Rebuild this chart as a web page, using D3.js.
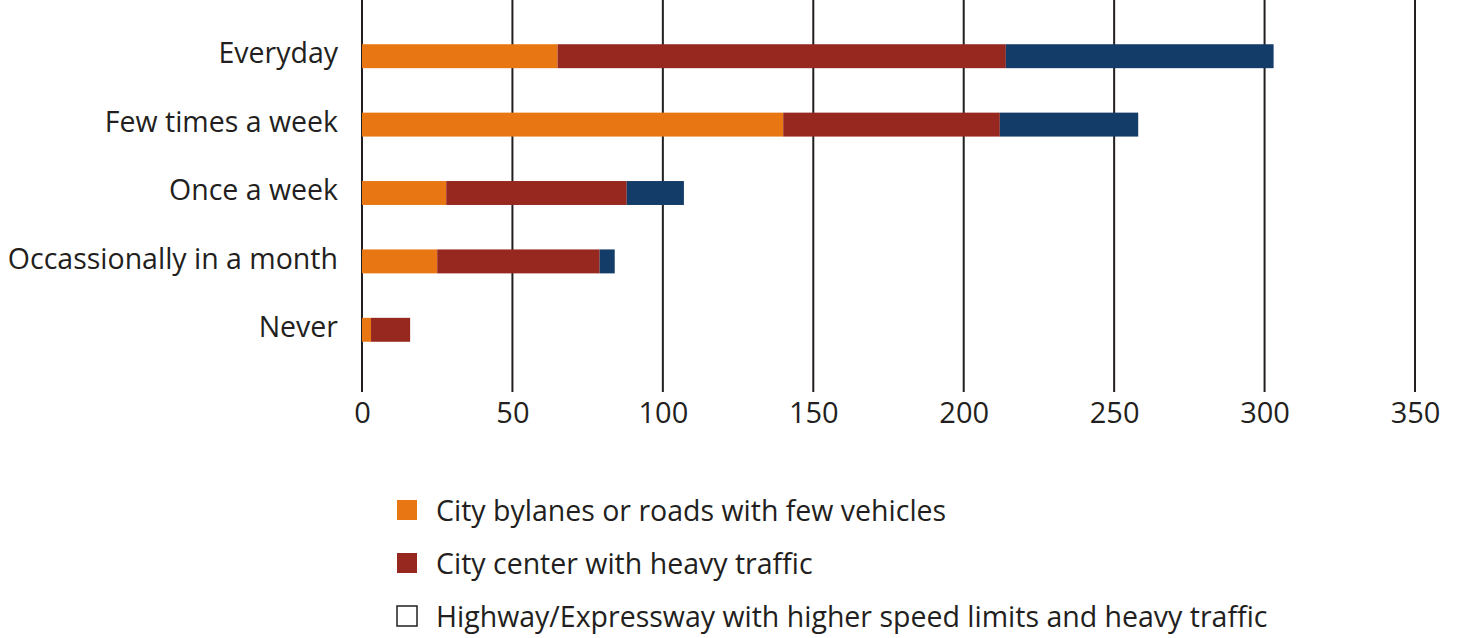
<!DOCTYPE html>
<html>
<head>
<meta charset="utf-8">
<script src="https://cdn.jsdelivr.net/npm/d3@7"></script>
<style>
  body { margin: 0; background: #fff; }
  svg { display: block; font-family: "Open Sans", sans-serif; }
</style>
</head>
<body>
<svg width="1458" height="638"></svg>
<script>
const categories = ['Everyday', 'Few times a week', 'Once a week', 'Occassionally in a month', 'Never'];
const seriesNames = [
  'City bylanes or roads with few vehicles',
  'City center with heavy traffic',
  'Highway/Expressway with higher speed limits and heavy traffic'
];
const bylanes = [65, 140, 28, 25, 3];
const cityCenter = [149, 72, 60, 54, 13];
const highway = [89, 46, 19, 5, 0];
const tickValues = [0, 50, 100, 150, 200, 250, 300, 350];
const colors = ['#e87713', '#962820', '#143c69'];

const svg = d3.select('svg');
const left = 362;
const right = 1415;

const rows = categories.map((c, i) => ({
  category: c,
  [seriesNames[0]]: bylanes[i],
  [seriesNames[1]]: cityCenter[i],
  [seriesNames[2]]: highway[i]
}));

const stack = d3.stack().keys(seriesNames);
const series = stack(rows);

const xScale = d3.scaleLinear().domain([0, 350]).range([left, right]);
const yScale = d3.scaleBand().domain(categories).range([22, 364]).paddingInner(0.65).paddingOuter(0.325);

// grid lines
svg.append('g')
  .selectAll('line')
  .data(tickValues)
  .enter()
  .append('line')
  .attr('x1', d => xScale(d))
  .attr('x2', d => xScale(d))
  .attr('y1', 0)
  .attr('y2', 392)
  .attr('stroke', '#231f20')
  .attr('stroke-width', 2);

const xAxis = d3.axisBottom(xScale).tickValues(tickValues).tickSize(0).tickPadding(0);
svg.append('g')
  .attr('transform', 'translate(0, 402)')
  .call(xAxis)
  .call(g => g.select('.domain').remove())
  .selectAll('text')
  .attr('dy', '0.71em')
  .style('font-size', '29px')
  .style('font-family', '"Open Sans", sans-serif')
  .attr('fill', '#231f20');

svg.append('g')
  .selectAll('g')
  .data(series)
  .enter()
  .append('g')
  .attr('fill', (d, i) => colors[i])
  .selectAll('rect')
  .data(d => d)
  .enter()
  .append('rect')
  .attr('x', d => xScale(d[0]))
  .attr('y', d => yScale(d.data.category))
  .attr('width', d => xScale(d[1]) - xScale(d[0]))
  .attr('height', yScale.bandwidth());

const yAxis = d3.axisLeft(yScale).tickSize(0).tickPadding(0);
svg.append('g')
  .attr('transform', 'translate(338, -2)')
  .call(yAxis)
  .call(g => g.select('.domain').remove())
  .selectAll('text')
  .style('font-size', '28.5px')
  .style('font-family', '"Open Sans", sans-serif')
  .attr('fill', '#231f20');

// legend
const legend = svg.append('g')
  .selectAll('g')
  .data(seriesNames)
  .enter()
  .append('g')
  .attr('transform', (d, i) => `translate(397, ${500 + i * 53})`);

legend.append('rect')
  .attr('width', 20)
  .attr('height', 20)
  .attr('fill', (d, i) => i === 2 ? '#fff' : colors[i])
  .attr('stroke', (d, i) => i === 2 ? '#231f20' : 'none')
  .attr('stroke-width', 1.5);

legend.append('text')
  .attr('x', 39)
  .attr('y', 11)
  .attr('dy', '0.35em')
  .style('font-size', '28.5px')
  .attr('fill', '#231f20')
  .text(d => d);
</script>
</body>
</html>
